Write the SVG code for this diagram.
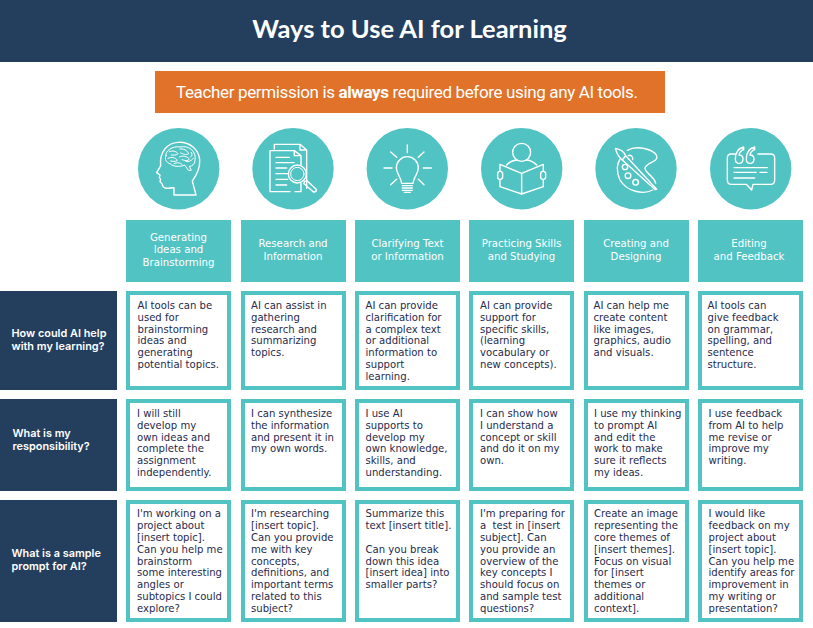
<svg xmlns="http://www.w3.org/2000/svg" width="813" height="628" viewBox="0 0 813 628">
<style>
.navy{fill:#243e5e}.teal{fill:#52c3c3}
.cell{fill:#fff;stroke:#52c3c3;stroke-width:4}
.ic{fill:none;stroke:#fff;stroke-width:4.2;stroke-linecap:round;stroke-linejoin:round}
.ic2{fill:none;stroke:#fff;stroke-width:3;stroke-linecap:round;stroke-linejoin:round}
text{font-family:"Inter","Noto Sans",sans-serif}
.b{font-family:"DejaVu Sans",sans-serif;font-size:10.1px;fill:#1f2b4d}
.h{font-family:"DejaVu Sans",sans-serif;font-size:10.2px;fill:#fff;text-anchor:middle}
.l{font-size:10.9px;fill:#fff;font-weight:600}
</style>
<rect width="813" height="628" fill="#fff"/>
<g id="title"><rect class="navy" width="813" height="62"/><text x="409.5" y="38" text-anchor="middle" style="font-family:Lato,sans-serif;font-weight:700;font-size:25.5px;fill:#fff">Ways to Use AI for Learning</text></g>
<g id="notice"><rect x="155" y="71" width="510" height="42" fill="#e07229"/><text x="176" y="98" textLength="462" style="font-family:Roboto,sans-serif;font-size:17px;fill:#fff">Teacher permission is <tspan font-weight="700">always</tspan> required before using any AI tools.</text></g>

<g id="icon-brain"><circle class="teal" cx="178.7" cy="168.7" r="40.7"/><g transform="translate(130 125) scale(.3333)">
<path class="ic" d="M132 210V188C118 190 98 194 97 178L90 170L92 163L88 158L90 150L80 143L92 122C88 80 112 54 144 52C178 50 206 72 209 104C211 130 200 150 187 168L198 210Z"/>
<path class="ic2" d="M108 92C104 78 128 62 150 66C178 60 200 80 195 106C195 118 186 124 178 124L184 136L175 136L164 120C150 126 130 126 120 116C108 113 103 101 108 92Z"/>
<path class="ic2" d="M118 80C128 76 138 78 144 86C138 92 130 90 124 90M150 72C160 70 172 76 176 86C168 92 160 86 152 84M114 100C126 94 136 98 142 106C136 112 128 108 122 108M148 96C158 90 170 94 178 102C174 110 164 106 156 104M132 116C140 112 150 112 156 118M166 108C172 112 182 110 190 100M184 82C188 88 186 94 182 96"/></g></g>

<g id="icon-research"><circle class="teal" cx="293" cy="168.7" r="40.7"/><g transform="translate(245 125) scale(.3333)">
<path class="ic" d="M88 72V58H165L185 75V190M165 58V75H185"/>
<path class="ic" d="M135 200H75V77H148L168 92V120M148 77V92H168M168 175V200H150"/>
<path class="ic" d="M93 97H133M93 113H147M93 129H125M93 146H128M93 163H128M93 180H125"/>
<circle class="ic" cx="157" cy="147" r="27"/><circle class="ic2" cx="157" cy="147" r="20"/>
<path class="ic" d="M178 170L186 167L213 192Q216 197 211 200Q206 203 202 198L177 176Z"/></g></g>

<g id="icon-idea"><circle class="teal" cx="407.3" cy="168.7" r="40.7"/><g transform="translate(350 120) scale(.3333)">
<path class="ic" d="M172 75V98M122 96L140 112M222 96L205 112M102 144H126M220 144H244M122 194L140 178M222 194L205 178"/>
<path class="ic" d="M155 190C152 168 139 162 139 143A33 33 0 0 1 205 143C205 162 192 168 189 190Z"/>
<path class="ic" d="M157 197H187M157 204H187M157 211H187M163 217H181"/></g></g>

<g id="icon-reader"><circle class="teal" cx="521.7" cy="168.7" r="40.7"/><g transform="translate(350 120) scale(.3333)">
<circle class="ic" cx="515" cy="97" r="27"/>
<path class="ic" d="M470 135C478 126 490 121 500 120M530 120C540 121 552 126 560 135"/>
<path class="ic" d="M515 160L450 133V200L515 222L580 200V133ZM515 160V222"/>
<rect class="ic" x="443" y="154" width="15" height="24" rx="7" style="fill:#52c3c3"/><rect class="ic" x="572" y="154" width="15" height="24" rx="7" style="fill:#52c3c3"/></g></g>

<g id="icon-palette"><circle class="teal" cx="636" cy="168.7" r="40.7"/><g transform="translate(590 125) scale(.3333)">
<path class="ic" d="M112 76C140 60 190 72 200 92C208 112 166 112 165 130C166 146 192 152 197 175M188 195C160 210 110 200 90 165C78 140 80 115 92 100"/>
<path class="ic" d="M76 70C88 72 102 80 107 92L200 193L196 194L97 105C88 98 80 85 76 70ZM107 92L97 105"/>
<circle class="ic" cx="105" cy="126" r="8"/><circle class="ic" cx="114" cy="152" r="8.5"/><circle class="ic" cx="137" cy="172" r="8.5"/>
<path class="ic" d="M115 92C122 88 130 94 128 104"/></g></g>

<g id="icon-quote"><circle class="teal" cx="750.7" cy="168.7" r="40.7"/><g transform="translate(703 125) scale(.3333)">
<path class="ic" d="M97 87H85Q73 87 73 99V165Q73 178 85 178H130L146 195L150 178H203Q215 178 215 165V99Q215 87 203 87H165"/>
<path class="ic" d="M122 66C105 70 97 85 97 102Q97 115 108 115Q120 115 120 102Q120 90 108 90C110 80 115 76 122 74Z"/>
<path class="ic" d="M155 66C138 70 130 85 130 102Q130 115 141 115Q153 115 153 102Q153 90 141 90C143 80 148 76 155 74Z"/>
<path class="ic" d="M93 128H193M93 142H160M171 142H192M93 159H155"/></g></g>

<g id="head-1"><rect class="teal" x="126" y="220" width="105" height="62"/><text class="h" x="178.5" y="241">Generating</text><text class="h" x="178.5" y="253">Ideas and</text><text class="h" x="178.5" y="265.5">Brainstorming</text></g>
<g id="head-2"><rect class="teal" x="241" y="220" width="105" height="62"/><text class="h" x="293" y="247">Research and</text><text class="h" x="293" y="260">Information</text></g>
<g id="head-3"><rect class="teal" x="355" y="220" width="105" height="62"/><text class="h" x="407.5" y="247">Clarifying Text</text><text class="h" x="407.5" y="260">or Information</text></g>
<g id="head-4"><rect class="teal" x="469" y="220" width="105" height="62"/><text class="h" x="521.5" y="247">Practicing Skills</text><text class="h" x="521.5" y="260">and Studying</text></g>
<g id="head-5"><rect class="teal" x="584" y="220" width="105" height="62"/><text class="h" x="636" y="247">Creating and</text><text class="h" x="636" y="260">Designing</text></g>
<g id="head-6"><rect class="teal" x="698" y="220" width="105" height="62"/><text class="h" x="749" y="247">Editing</text><text class="h" x="749" y="260">and Feedback</text></g>

<g id="row-1"><rect class="navy" y="291" width="117" height="99"/><text class="l" x="11.5" y="337">How could AI help</text><text class="l" x="11.5" y="350.2">with my learning?</text></g>
<g id="row-2"><rect class="navy" y="399" width="117" height="92"/><text class="l" x="12.5" y="436.5">What is my</text><text class="l" x="12.5" y="449.7">responsibility?</text></g>
<g id="row-3"><rect class="navy" y="500" width="117" height="122"/><text class="l" x="11.5" y="557">What is a sample</text><text class="l" x="11.5" y="570.2">prompt for AI?</text></g>

<g id="cell-1-1"><rect class="cell" x="128" y="293" width="101" height="95"/><text class="b" x="137.5" y="309">AI tools can be</text><text class="b" x="137.5" y="320.8">used for</text><text class="b" x="137.5" y="332.6">brainstorming</text><text class="b" x="137.5" y="344.4">ideas and</text><text class="b" x="137.5" y="356.2">generating</text><text class="b" x="137.5" y="368">potential topics.</text></g>
<g id="cell-1-2"><rect class="cell" x="243" y="293" width="101" height="95"/><text class="b" x="251" y="309">AI can assist in</text><text class="b" x="251" y="320.8">gathering</text><text class="b" x="251" y="332.6">research and</text><text class="b" x="251" y="344.4">summarizing</text><text class="b" x="251" y="356.2">topics.</text></g>
<g id="cell-1-3"><rect class="cell" x="357" y="293" width="101" height="95"/><text class="b" x="365.5" y="309">AI can provide</text><text class="b" x="365.5" y="320.8">clarification for</text><text class="b" x="365.5" y="332.6">a complex text</text><text class="b" x="365.5" y="344.4">or additional</text><text class="b" x="365.5" y="356.2">information to</text><text class="b" x="365.5" y="368">support</text><text class="b" x="365.5" y="379.8">learning.</text></g>
<g id="cell-1-4"><rect class="cell" x="471" y="293" width="101" height="95"/><text class="b" x="480" y="309">AI can provide</text><text class="b" x="480" y="320.8">support for</text><text class="b" x="480" y="332.6">specific skills,</text><text class="b" x="480" y="344.4">(learning</text><text class="b" x="480" y="356.2">vocabulary or</text><text class="b" x="480" y="368">new concepts).</text></g>
<g id="cell-1-5"><rect class="cell" x="586" y="293" width="101" height="95"/><text class="b" x="593.5" y="309">AI can help me</text><text class="b" x="593.5" y="320.8">create content</text><text class="b" x="593.5" y="332.6">like images,</text><text class="b" x="593.5" y="344.4">graphics, audio</text><text class="b" x="593.5" y="356.2">and visuals.</text></g>
<g id="cell-1-6"><rect class="cell" x="700" y="293" width="101" height="95"/><text class="b" x="707.5" y="309">AI tools can</text><text class="b" x="707.5" y="320.8">give feedback</text><text class="b" x="707.5" y="332.6">on grammar,</text><text class="b" x="707.5" y="344.4">spelling, and</text><text class="b" x="707.5" y="356.2">sentence</text><text class="b" x="707.5" y="368">structure.</text></g>

<g id="cell-2-1"><rect class="cell" x="128" y="401" width="101" height="88"/><text class="b" x="137" y="417">I will still</text><text class="b" x="137" y="428.8">develop my</text><text class="b" x="137" y="440.6">own ideas and</text><text class="b" x="137" y="452.4">complete the</text><text class="b" x="137" y="464.2">assignment</text><text class="b" x="137" y="476">independently.</text></g>
<g id="cell-2-2"><rect class="cell" x="243" y="401" width="101" height="88"/><text class="b" x="251" y="417">I can synthesize</text><text class="b" x="251" y="428.8">the information</text><text class="b" x="251" y="440.6">and present it in</text><text class="b" x="251" y="452.4">my own words.</text></g>
<g id="cell-2-3"><rect class="cell" x="357" y="401" width="101" height="88"/><text class="b" x="365.5" y="417">I use AI</text><text class="b" x="365.5" y="428.8">supports to</text><text class="b" x="365.5" y="440.6">develop my</text><text class="b" x="365.5" y="452.4">own knowledge,</text><text class="b" x="365.5" y="464.2">skills, and</text><text class="b" x="365.5" y="476">understanding.</text></g>
<g id="cell-2-4"><rect class="cell" x="471" y="401" width="101" height="88"/><text class="b" x="480" y="417">I can show how</text><text class="b" x="480" y="428.8">I understand a</text><text class="b" x="480" y="440.6">concept or skill</text><text class="b" x="480" y="452.4">and do it on my</text><text class="b" x="480" y="464.2">own.</text></g>
<g id="cell-2-5"><rect class="cell" x="586" y="401" width="101" height="88"/><text class="b" x="594" y="417">I use my thinking</text><text class="b" x="594" y="428.8">to prompt AI</text><text class="b" x="594" y="440.6">and edit the</text><text class="b" x="594" y="452.4">work to make</text><text class="b" x="594" y="464.2">sure it reflects</text><text class="b" x="594" y="476">my ideas.</text></g>
<g id="cell-2-6"><rect class="cell" x="700" y="401" width="101" height="88"/><text class="b" x="708.5" y="417">I use feedback</text><text class="b" x="708.5" y="428.8">from AI to help</text><text class="b" x="708.5" y="440.6">me revise or</text><text class="b" x="708.5" y="452.4">improve my</text><text class="b" x="708.5" y="464.2">writing.</text></g>

<g id="cell-3-1"><rect class="cell" x="128" y="502" width="101" height="118"/><text class="b" x="137" y="517">I'm working on a</text><text class="b" x="137" y="528.9">project about</text><text class="b" x="137" y="540.8">[insert topic].</text><text class="b" x="137" y="552.6">Can you help me</text><text class="b" x="137" y="564.5">brainstorm</text><text class="b" x="137" y="576.4">some interesting</text><text class="b" x="137" y="588.3">angles or</text><text class="b" x="137" y="600.1">subtopics I could</text><text class="b" x="137" y="612">explore?</text></g>
<g id="cell-3-2"><rect class="cell" x="243" y="502" width="101" height="118"/><text class="b" x="251" y="517">I'm researching</text><text class="b" x="251" y="528.9">[insert topic].</text><text class="b" x="251" y="540.8">Can you provide</text><text class="b" x="251" y="552.6">me with key</text><text class="b" x="251" y="564.5">concepts,</text><text class="b" x="251" y="576.4">definitions, and</text><text class="b" x="251" y="588.3">important terms</text><text class="b" x="251" y="600.1">related to this</text><text class="b" x="251" y="612">subject?</text></g>
<g id="cell-3-3"><rect class="cell" x="357" y="502" width="101" height="118"/><text class="b" x="365.5" y="517">Summarize this</text><text class="b" x="365.5" y="528.9">text [insert title].</text><text class="b" x="365.5" y="552.6">Can you break</text><text class="b" x="365.5" y="564.5">down this idea</text><text class="b" x="365.5" y="576.4">[insert idea] into</text><text class="b" x="365.5" y="588.3">smaller parts?</text></g>
<g id="cell-3-4"><rect class="cell" x="471" y="502" width="101" height="118"/><text class="b" x="480" y="517">I'm preparing for</text><text class="b" x="480" y="528.9" xml:space="preserve">a  test in [insert</text><text class="b" x="480" y="540.8">subject]. Can</text><text class="b" x="480" y="552.6">you provide an</text><text class="b" x="480" y="564.5">overview of the</text><text class="b" x="480" y="576.4">key concepts I</text><text class="b" x="480" y="588.3">should focus on</text><text class="b" x="480" y="600.1">and sample test</text><text class="b" x="480" y="612">questions?</text></g>
<g id="cell-3-5"><rect class="cell" x="586" y="502" width="101" height="118"/><text class="b" x="594" y="517">Create an image</text><text class="b" x="594" y="528.9">representing the</text><text class="b" x="594" y="540.8">core themes of</text><text class="b" x="594" y="552.6">[insert themes].</text><text class="b" x="594" y="564.5">Focus on visual</text><text class="b" x="594" y="576.4">for [insert</text><text class="b" x="594" y="588.3">themes or</text><text class="b" x="594" y="600.1">additional</text><text class="b" x="594" y="612">context].</text></g>
<g id="cell-3-6"><rect class="cell" x="700" y="502" width="101" height="118"/><text class="b" x="708.5" y="517">I would like</text><text class="b" x="708.5" y="528.9">feedback on my</text><text class="b" x="708.5" y="540.8">project about</text><text class="b" x="708.5" y="552.6">[insert topic].</text><text class="b" x="708.5" y="564.5">Can you help me</text><text class="b" x="708.5" y="576.4">identify areas for</text><text class="b" x="708.5" y="588.3">improvement in</text><text class="b" x="708.5" y="600.1">my writing or</text><text class="b" x="708.5" y="612">presentation?</text></g>
</svg>
